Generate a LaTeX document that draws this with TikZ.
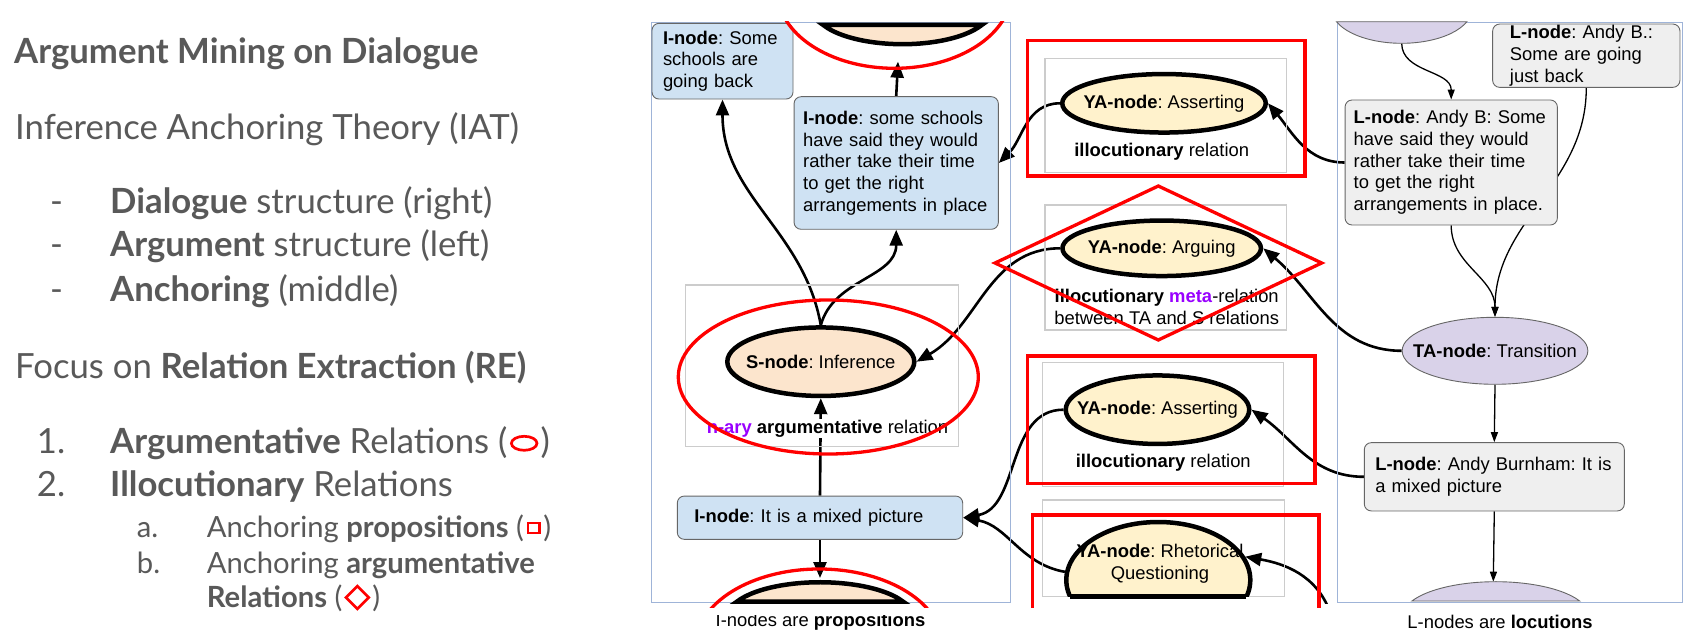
\documentclass[tikz,border=0pt]{standalone}
\usepackage{fontspec}
\setmainfont{Liberation Sans}
\newfontfamily\latofont{Lato}
\usetikzlibrary{arrows.meta,shapes.geometric}
\frenchspacing

\definecolor{slidegray}{HTML}{595959}
\definecolor{inodefill}{HTML}{CFE2F3}
\definecolor{lnodefill}{HTML}{EFEFEF}
\definecolor{tanodefill}{HTML}{D9D2E9}
\definecolor{snodefill}{HTML}{FCE5CD}
\definecolor{yanodefill}{HTML}{FFF2CC}
\definecolor{boxline}{HTML}{666666}
\definecolor{framegray}{HTML}{CCCCCC}
\definecolor{panelblue}{HTML}{9FB4D8}
\definecolor{metapurple}{HTML}{9900FF}
\definecolor{markred}{HTML}{FF0000}

\pgfdeclarelayer{background}
\pgfsetlayers{background,main}

\newcommand{\diagfont}{\fontsize{18.4}{21.7}\selectfont}
\newcommand{\slidefont}{\latofont\fontsize{34.7}{40}\selectfont}
\newcommand{\subfont}{\latofont\fontsize{29.2}{34}\selectfont}

\begin{document}
\begin{tikzpicture}[
  every node/.style={font=\diagfont},
  inode/.style={rectangle, rounded corners=7pt, fill=inodefill, draw=boxline, line width=0.9pt, align=left, inner ysep=1pt},
  lnode/.style={inode, fill=lnodefill},
  snode/.style={ellipse, fill=snodefill, draw=black, line width=4.5pt, inner sep=0pt},
  yanode/.style={snode, fill=yanodefill},
  tanode/.style={ellipse, fill=tanodefill, draw=boxline, line width=0.9pt, inner sep=0pt},
  relframe/.style={draw=framegray, line width=1.3pt},
  relnote/.style={inner sep=1pt, align=center},
  panel/.style={draw=panelblue, line width=1pt},
  redmark/.style={draw=markred, line width=3.3pt},
  arr/.style={-{Triangle[length=16pt,width=13pt]}, line width=2.6pt},
  thinarr/.style={-{Triangle[length=10pt,width=7pt]}, line width=1.3pt},
  slidetext/.style={anchor=base west, inner sep=0pt, text=slidegray, font=\slidefont}
]
\useasboundingbox (0pt,0pt) rectangle (1701pt,-639pt);

% slide text
\node (title) [slidetext, font=\slidefont\bfseries] at (14pt,-63.3pt) {Argument Mining on Dialogue};
\node (iat) [slidetext] at (15pt,-139.3pt) {Inference Anchoring Theory (IAT)};
\node (dash1) [slidetext] at (50pt,-213.3pt) {-};
\node (dialogue) [slidetext] at (110pt,-213.3pt) {\textbf{Dialogue} structure (right)};
\node (dash2) [slidetext] at (50pt,-257pt) {-};
\node (argument) [slidetext] at (110pt,-257pt) {\textbf{Argument} structure (left)};
\node (dash3) [slidetext] at (50pt,-301.5pt) {-};
\node (anchoring) [slidetext] at (110pt,-301.5pt) {\textbf{Anchoring} (middle)};
\node (focus) [slidetext] at (15pt,-378.3pt) {Focus on \textbf{Relation Extraction (RE)}};
\node (num1) [slidetext] at (36.7pt,-453.3pt) {1.};
\node (argrel) [slidetext] at (110pt,-453.3pt) {\textbf{Argumentative} Relations (};
\node (argsym) [ellipse, draw=markred, line width=2.7pt, minimum width=25.6pt, minimum height=14pt, inner sep=0pt, anchor=west] at ([xshift=2.5pt,yshift=10pt]argrel.base east) {};
\node (argclose) [slidetext] at ([xshift=2pt]argsym.east |- argrel.base) {)};
\node (num2) [slidetext] at (36.7pt,-496.7pt) {2.};
\node (illrel) [slidetext] at (110pt,-496.7pt) {\textbf{Illocutionary} Relations};
\node (suba) [slidetext, font=\subfont] at (136.7pt,-537pt) {a.};
\node (anchprop) [slidetext, font=\subfont] at (206.7pt,-537pt) {Anchoring \textbf{propositions} (};
\node (propsym) [rectangle, draw=markred, line width=2.3pt, minimum width=11.7pt, minimum height=9.4pt, inner sep=0pt, anchor=west] at ([xshift=2.5pt,yshift=9pt]anchprop.base east) {};
\node (propclose) [slidetext, font=\subfont] at ([xshift=2.5pt]propsym.east |- anchprop.base) {)};
\node (subb) [slidetext, font=\subfont] at (136.7pt,-573pt) {b.};
\node (anchargone) [slidetext, font=\subfont] at (206.7pt,-573pt) {Anchoring \textbf{argumentative}};
\node (anchargtwo) [slidetext, font=\subfont] at (206.7pt,-607pt) {\textbf{Relations} (};
\node (metasym) [diamond, draw=markred, line width=2.7pt, minimum width=24pt, minimum height=24pt, inner sep=0pt, anchor=west] at ([xshift=1.5pt,yshift=9.5pt]anchargtwo.base east) {};
\node (metaclose) [slidetext, font=\subfont] at ([xshift=1.5pt]metasym.east |- anchargtwo.base) {)};

% screenshot of the IAT graph
\begin{scope}
\clip (640pt,-21pt) rectangle (1701pt,-603.5pt);
\draw[panel] (651.7pt,-22.7pt) rectangle (1010pt,-602.7pt);
\draw[panel] (1337.3pt,-22.7pt) rectangle (1682.3pt,-602.7pt);
\draw[relframe] (685.7pt,-285pt) rectangle (958.3pt,-446.7pt);
\draw[relframe] (1045pt,-58.3pt) rectangle (1286.7pt,-172.7pt);
\draw[relframe] (1045pt,-205pt) rectangle (1286.7pt,-330pt);
\draw[relframe] (1042.7pt,-362.7pt) rectangle (1283.3pt,-486.7pt);
\draw[relframe] (1042.7pt,-500pt) rectangle (1284.3pt,-596.7pt);

% cut-off nodes at the edges
\draw[line width=4.5pt, fill=snodefill] (902.5pt,-10.2pt) ++(205.8:88pt and 34pt) arc[start angle=205.8, end angle=334.2, x radius=88pt, y radius=34pt] -- cycle;
\draw[line width=4.5pt, fill=snodefill] (820pt,-616.25pt) ++(25.3:92pt and 34pt) arc[start angle=25.3, end angle=154.7, x radius=92pt, y radius=34pt] -- cycle;
\draw[line width=0.9pt, draw=boxline, fill=tanodefill] (1401.7pt,-9.3pt) ++(201.4:70pt and 34pt) arc[start angle=201.4, end angle=338.6, x radius=70pt, y radius=34pt] -- cycle;
\draw[line width=0.9pt, draw=boxline, fill=tanodefill] (1495.8pt,-615.7pt) ++(25.6:93pt and 34pt) arc[start angle=25.6, end angle=154.4, x radius=93pt, y radius=34pt] -- cycle;
\coordinate (stoppart) at (898pt,-61.7pt);
\coordinate (sbotpart) at (820pt,-578pt);
\coordinate (tatoppart) at (1401.7pt,-43.3pt);
\coordinate (tabotpart) at (1493.3pt,-581.7pt);
\coordinate (rqsource) at (1330pt,-612pt);

% I-nodes
\node (inodeone) [inode, minimum width=141pt, minimum height=75.7pt, text width=119pt, inner xsep=11pt] at (722.5pt,-61.2pt) {\textbf{I-node}: Some\\schools are\\going back};
\node (inodetwo) [inode, minimum width=204.3pt, minimum height=132.6pt, text width=186pt, inner xsep=9.1pt] at (896.2pt,-163pt) {\textbf{I-node}: some schools\\have said they would\\rather take their time\\to get the right\\arrangements in place};
\node (inodethree) [inode, minimum width=285.4pt, minimum height=43.3pt, text width=251.4pt, inner xsep=17pt] at (820pt,-517.7pt) {\textbf{I-node}: It is a mixed picture};

% L-nodes
\node (lnodeone) [lnode, minimum width=187.3pt, minimum height=63.3pt, text width=152.7pt, inner xsep=17.3pt] at (1586.3pt,-55.7pt) {\textbf{L-node}: Andy B.:\\Some are going\\just back};
\node (lnodetwo) [lnode, minimum width=212.3pt, minimum height=125pt, text width=195pt, inner xsep=8.6pt] at (1451.2pt,-162.5pt) {\textbf{L-node}: Andy B: Some\\have said they would\\rather take their time\\to get the right\\arrangements in place.};
\node (lnodethree) [lnode, minimum width=260pt, minimum height=68.3pt, text width=238pt, inner xsep=11pt] at (1494.3pt,-476.8pt) {\textbf{L-node}: Andy Burnham: It is\\a mixed picture};

% S-, YA- and TA-nodes
\node (sinf) [snode, minimum width=187pt, minimum height=68.5pt] at (820.8pt,-361.7pt) {};
\node (sinftext) at (sinf) {\textbf{S-node}: Inference};
\node (sinfnote) [relnote, fill=white] at (827.5pt,-428.3pt) {\textcolor{metapurple}{\textbf{n-ary}} \textbf{argumentative} relation};
\node (yaassertone) [yanode, minimum width=203.5pt, minimum height=58.5pt] at (1164pt,-103.3pt) {};
\node (yaassertonetext) at (yaassertone) {\textbf{YA-node}: Asserting};
\node (yaassertonenote) [relnote] at (1161.7pt,-151.7pt) {\textbf{illocutionary} relation};
\node (yaargue) [yanode, minimum width=198.5pt, minimum height=55.5pt] at (1161.7pt,-248.3pt) {};
\node (yaarguetext) at (yaargue) {\textbf{YA-node}: Arguing};
\node (yaarguenote) [relnote] at (1166.7pt,-306.7pt) {\textbf{illocutionary} \textcolor{metapurple}{\textbf{meta}}-relation\\between TA and S relations};
\node (yaasserttwo) [yanode, minimum width=183.5pt, minimum height=68.5pt] at (1157.5pt,-409.7pt) {};
\node (yaasserttwotext) at (yaasserttwo) {\textbf{YA-node}: Asserting};
\node (yaasserttwonote) [relnote] at (1163.3pt,-462.7pt) {\textbf{illocutionary} relation};
\begin{scope}
\clip (1040pt,-500pt) rectangle (1290pt,-596.7pt);
\node (yarq) [yanode, minimum width=184pt, minimum height=116pt] at (1158.3pt,-580pt) {};
\end{scope}
\draw[line width=4.5pt] (1070.2pt,-596.7pt) -- (1246.4pt,-596.7pt);
\node (yarqtext) [align=center] at (1160pt,-563.8pt) {\textbf{YA-node}: Rhetorical\\Questioning};
\node (tatrans) [tanode, minimum width=185.7pt, minimum height=67pt] at (1495pt,-350.8pt) {};
\node (tatranstext) at (tatrans) {\textbf{TA-node}: Transition};
\end{scope}

% connectors
\begin{pgfonlayer}{background}
\fill[white] (0pt,0pt) rectangle (1701pt,-639pt);
\begin{scope}
\clip (640pt,-21pt) rectangle (1701pt,-603.5pt);
\draw[arr] (sinf.north) to[out=100,in=-90] (inodeone.south);
\draw[arr] (sinf.north) to[out=75,in=-90] (inodetwo.south);
\draw[arr] (inodetwo.north) -- (stoppart);
\draw[arr] (inodethree.north) -- (sinf.south);
\draw[arr] (inodethree.south) -- (sbotpart);
\draw[arr] (yaassertone.west) to[out=180,in=45] (inodetwo.east);
\draw[arr] (yaargue.west) to[out=180,in=30] (sinf.east);
\draw[arr] (yaasserttwo.west) to[out=180,in=10] (inodethree.east);
\draw[arr] (yarq.175) to[out=170,in=-10] (inodethree.east);
\draw[arr] (lnodetwo.west) to[out=180,in=-50] (yaassertone.east);
\draw[arr] (tatrans.west) to[out=180,in=-40] (yaargue.east);
\draw[arr] (lnodethree.west) to[out=180,in=-35] (yaasserttwo.east);
\draw[arr] (rqsource) to[out=110,in=-10] (yarq.15);
\draw[thinarr] (tatoppart) to[out=-90,in=90] (lnodetwo.north);
\draw[thinarr] (lnodeone.south) to[out=-90,in=90] (tatrans.north);
\draw[thinarr] (lnodetwo.south) to[out=-90,in=90] (tatrans.north);
\draw[thinarr] (tatrans.south) -- (lnodethree.north);
\draw[thinarr] (lnodethree.south) -- (tabotpart);
\end{scope}
\end{pgfonlayer}

% red annotations
\begin{scope}
\clip (640pt,-21.7pt) rectangle (1701pt,-607pt);
\draw[redmark] (894.5pt,8.7pt) ellipse (117pt and 77pt);
\draw[redmark] (828.3pt,-377pt) ellipse (150pt and 77pt);
\draw[redmark] (819.2pt,-646pt) ellipse (123.6pt and 77pt);
\draw[redmark] (1027.3pt,-40.7pt) rectangle (1305pt,-176pt);
\draw[redmark] (1158.3pt,-186pt) -- (1321.7pt,-263pt) -- (1158.3pt,-340pt) -- (995pt,-263pt) -- cycle;
\draw[redmark] (1027.3pt,-356pt) rectangle (1315pt,-483.3pt);
\draw[redmark] (1032.3pt,-620pt) -- (1032.3pt,-515pt) -- (1319pt,-515pt) -- (1319pt,-620pt);
\end{scope}

% captions
\begin{scope}
\clip (640pt,-615pt) rectangle (1010pt,-639pt);
\node (icaption) at (820.5pt,-621.5pt) {I-nodes are \textbf{propositions}};
\end{scope}
\node (lcaption) at (1500pt,-621.7pt) {L-nodes are \textbf{locutions}};
\end{tikzpicture}
\end{document}
